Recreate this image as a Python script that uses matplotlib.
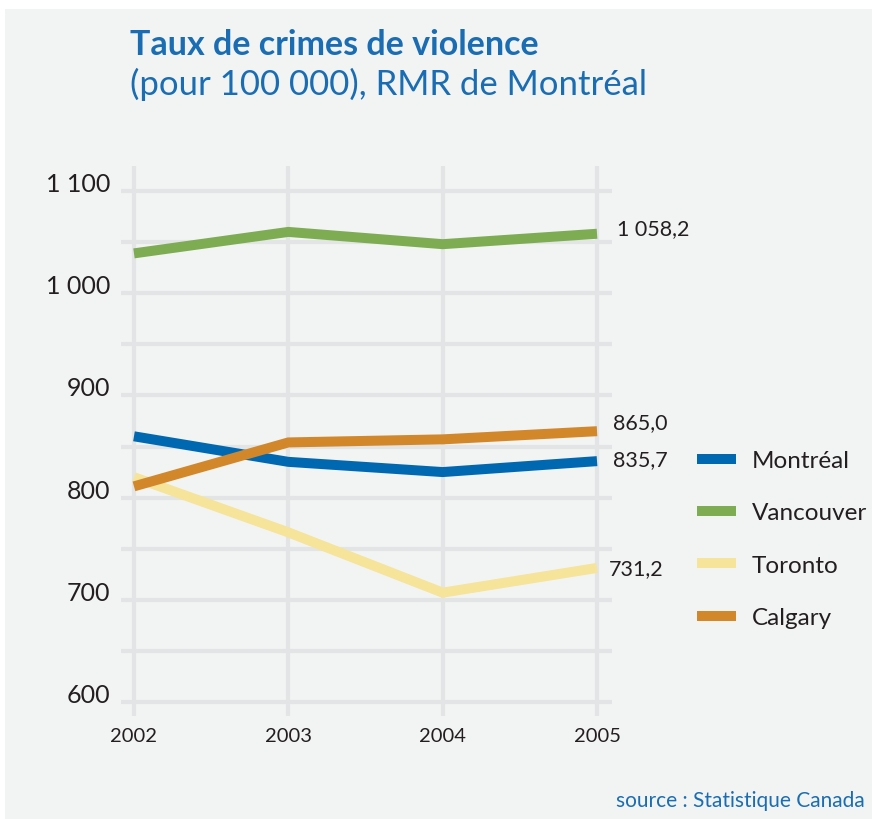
import matplotlib.pyplot as plt
from matplotlib.patches import Rectangle

plt.rcParams['font.family'] = ['Lato', 'DejaVu Sans']

years = [2002, 2003, 2004, 2005]
montreal = [860.0, 835.0, 825.0, 835.7]
vancouver = [1039.0, 1060.0, 1048.0, 1058.2]
toronto = [820.0, 766.0, 707.0, 731.2]
calgary = [811.0, 854.0, 857.0, 865.0]
end_labels = ['835,7', '1 058,2', '731,2', '865,0']
names = ['Montréal', 'Vancouver', 'Toronto', 'Calgary']
colors = ['#0068b1', '#7eac52', '#f5e49a', '#d2882a']
yticks = [600, 700, 800, 900, 1000, 1100]
ytick_labels = ['600', '700', '800', '900', '1 000', '1 100']

blue_txt = '#1a6db3'
bg = '#f2f4f3'
grid = '#e3e4e6'
ink = '#231f20'

fig = plt.figure(figsize=(8.72, 8.2), dpi=100)
fig.patch.set_facecolor('white')
fig.patches.append(Rectangle((5/872, 0), 1, 1 - 10/820, transform=fig.transFigure,
                             facecolor=bg, edgecolor='none', zorder=-10))

ax = fig.add_axes([121/872, 1 - 717/820, 491/872, 550/820])
ax.set_zorder(1)
ax.set_facecolor('none')
ax.set_xlim(2001.916, 2005.097)
ax.set_ylim(586.3, 1124.5)

# grid drawn by hand so horizontal and vertical lines have their own extents
for v in range(600, 1101, 50):
    ax.axhline(v, color=grid, lw=3, zorder=1)
for yr in years:
    ax.axvline(yr, color=grid, lw=3, zorder=1)

series = [montreal, vancouver, toronto, calgary]
handles = []
for vals, c, n in zip(series, colors, names):
    h, = ax.plot(years, vals, color=c, lw=7.2, solid_capstyle='butt',
                 solid_joinstyle='miter', label=n, zorder=3)
    handles.append(h)

# value at the last year, next to each line
offsets = {'835,7': (11.5, 1.5), '1 058,2': (14.4, 4), '731,2': (8.6, 0), '865,0': (11.5, 6.5)}
for vals, lab in zip(series, end_labels):
    ax.annotate(lab, (years[-1], vals[-1]), xytext=offsets[lab], textcoords='offset points',
                fontsize=15.5, color=ink, va='center', ha='left')

for s in ax.spines.values():
    s.set_visible(False)
ax.tick_params(length=0)
ax.set_xticks(years)
ax.set_xticklabels([str(y) for y in years], fontsize=14.5, color=ink)
ax.tick_params(axis='x', pad=8)
ax.set_yticks(yticks)
ax.set_yticklabels(ytick_labels, fontsize=18, color=ink, va='baseline')
ax.tick_params(axis='y', pad=8)

leg = ax.legend(handles=handles, loc='upper left', bbox_to_anchor=(697/872, 1 - 451/820),
                bbox_transform=fig.transFigure, frameon=False, fontsize=17.5,
                handlelength=1.6, handletextpad=0.66, labelspacing=1.29, borderpad=0,
                borderaxespad=0)
for t in leg.get_texts():
    t.set_color(ink)

fig.text(130/872, 1 - 55/820, 'Taux de crimes de violence', fontsize=24.5, fontweight='bold',
         color=blue_txt, ha='left', va='baseline')
fig.text(130/872, 1 - 95/820, '(pour 100 000), RMR de Montréal', fontsize=25,
         color=blue_txt, ha='left', va='baseline')
fig.text(865/872, 1 - 807/820, 'source : Statistique Canada', fontsize=15,
         color=blue_txt, ha='right', va='baseline')

fig.savefig('out.png', dpi=100, facecolor=fig.get_facecolor())
